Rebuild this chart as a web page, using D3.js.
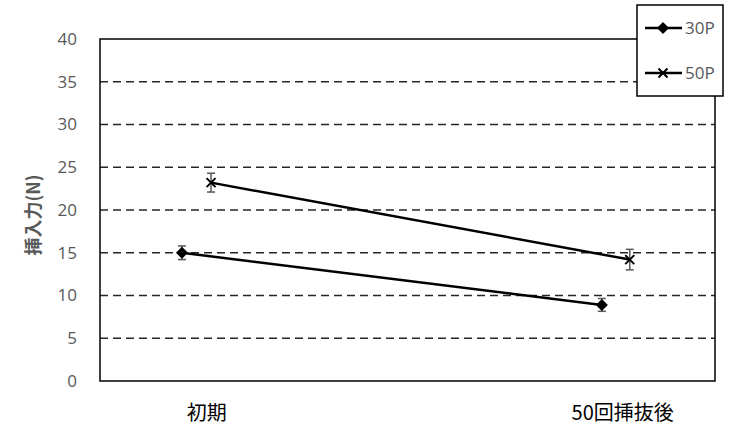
<!DOCTYPE html>
<html>
<head>
<meta charset="utf-8">
<script src="https://cdn.jsdelivr.net/npm/d3@7"></script>
<style>
  html, body { margin: 0; padding: 0; background: #fff; }
  svg { display: block; font-family: "Noto Sans CJK JP", "Noto Sans", sans-serif; }
</style>
</head>
<body>
<svg id="chart" width="732" height="427"></svg>
<script>
// Insertion force before and after 50 insertion cycles
const categories = ["初期", "50回挿抜後"];
const categoryPos = [1, 2];
const seriesNames = ["30P", "50P"];
const seriesX = [[0.94, 1.95], [1.01, 2.017]];
const values30P = [15.0, 8.9];
const errors30P = [0.8, 0.75];
const values50P = [23.2, 14.2];
const errors50P = [1.1, 1.2];
const yTicks = [0, 5, 10, 15, 20, 25, 30, 35, 40];
const yTitle = "挿入力(N)";

const series = [
  { name: seriesNames[0], xs: seriesX[0], ys: values30P, err: errors30P, marker: "diamond" },
  { name: seriesNames[1], xs: seriesX[1], ys: values50P, err: errors50P, marker: "cross" }
];

const svg = d3.select("#chart");
const plot = { left: 100, right: 715, top: 39, bottom: 381 };

const x = d3.scaleLinear().domain([0.743, 2.222]).range([plot.left, plot.right]);
const y = d3.scaleLinear().domain([0, 40]).range([plot.bottom, plot.top]);

// dashed horizontal gridlines
svg.append("g")
  .selectAll("line")
  .data(yTicks.filter(t => t > 0 && t < 40))
  .join("line")
  .attr("x1", plot.left).attr("x2", plot.right)
  .attr("y1", d => y(d)).attr("y2", d => y(d))
  .attr("stroke", "#262626")
  .attr("stroke-width", 1.5)
  .attr("stroke-dasharray", "8,5");

// plot frame
svg.append("rect")
  .attr("x", plot.left).attr("y", plot.top)
  .attr("width", plot.right - plot.left).attr("height", plot.bottom - plot.top)
  .attr("fill", "none").attr("stroke", "#000").attr("stroke-width", 1.5);

// y axis labels
const yAxis = d3.axisLeft(y).tickValues(yTicks).tickSize(0).tickPadding(23);
const gy = svg.append("g").attr("transform", `translate(${plot.left},0)`).call(yAxis);
gy.select(".domain").remove();
gy.selectAll("text")
  .attr("fill", "#595959")
  .style("font-size", "17px")
  .style("font-family", "'Open Sans', 'Noto Sans', sans-serif");

// category labels
svg.append("g")
  .selectAll("text")
  .data(categories)
  .join("text")
  .attr("x", (d, i) => x(categoryPos[i]))
  .attr("y", 420)
  .attr("text-anchor", "middle")
  .attr("fill", "#000")
  .style("font-size", "20px")
  .text(d => d);

// y axis title
svg.append("text")
  .attr("transform", `translate(40,215) rotate(-90)`)
  .attr("text-anchor", "middle")
  .attr("fill", "#595959")
  .style("font-size", "18px")
  .style("font-weight", "bold")
  .text(yTitle);

// error bars
const eb = svg.append("g").attr("stroke", "#595959").attr("stroke-width", 1.5);
series.forEach(s => {
  s.ys.forEach((v, i) => {
    const cx = x(s.xs[i]);
    const y0 = y(v - s.err[i]), y1 = y(v + s.err[i]);
    eb.append("line").attr("x1", cx).attr("x2", cx).attr("y1", y0).attr("y2", y1);
    eb.append("line").attr("x1", cx - 4).attr("x2", cx + 4).attr("y1", y0).attr("y2", y0);
    eb.append("line").attr("x1", cx - 4).attr("x2", cx + 4).attr("y1", y1).attr("y2", y1);
  });
});

// series lines
const line = d3.line().x(d => x(d[0])).y(d => y(d[1]));
series.forEach(s => {
  svg.append("path")
    .datum(s.xs.map((xv, i) => [xv, s.ys[i]]))
    .attr("d", line)
    .attr("fill", "none")
    .attr("stroke", "#000")
    .attr("stroke-width", 2.5);
});

function drawMarker(g, type, cx, cy) {
  if (type === "diamond") {
    g.append("path")
      .attr("d", `M${cx},${cy - 6}L${cx + 6},${cy}L${cx},${cy + 6}L${cx - 6},${cy}Z`)
      .attr("fill", "#000");
  } else {
    const r = 4.5;
    g.append("path")
      .attr("d", `M${cx - r},${cy - r}L${cx + r},${cy + r}M${cx - r},${cy + r}L${cx + r},${cy - r}`)
      .attr("stroke", "#000").attr("stroke-width", 2).attr("fill", "none");
  }
}

// markers
const mk = svg.append("g");
series.forEach(s => {
  s.ys.forEach((v, i) => drawMarker(mk, s.marker, x(s.xs[i]), y(v)));
});

// legend
const lg = svg.append("g");
lg.append("rect")
  .attr("x", 637).attr("y", 5).attr("width", 86).attr("height", 91)
  .attr("fill", "#fff").attr("stroke", "#000").attr("stroke-width", 1.5);
series.forEach((s, i) => {
  const ly = 28 + i * 45;
  lg.append("line").attr("x1", 645).attr("x2", 682).attr("y1", ly).attr("y2", ly)
    .attr("stroke", "#000").attr("stroke-width", 2.5);
  drawMarker(lg, s.marker, 663, ly);
  lg.append("text")
    .attr("x", 685).attr("y", ly).attr("dy", "0.35em")
    .attr("fill", "#595959")
    .style("font-size", "17px")
    .style("font-family", "'Open Sans', 'Noto Sans', sans-serif")
    .text(s.name);
});
</script>
</body>
</html>
